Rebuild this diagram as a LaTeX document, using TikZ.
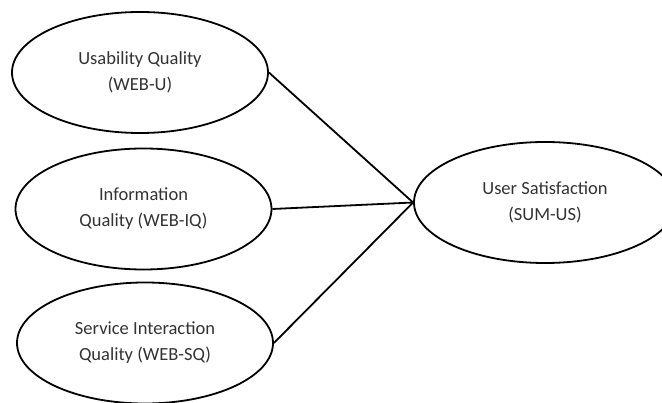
\documentclass[tikz,border=0pt]{standalone}
\usepackage{fontspec}
\setmainfont{Carlito}
\usetikzlibrary{shapes.geometric}
\begin{document}
\begin{tikzpicture}[x=1pt,y=-1pt,
  construct/.style={draw=black, line width=1.8pt, ellipse, inner sep=0pt,
    minimum width=256pt, minimum height=121pt, align=center,
    text=black!80, font=\fontsize{18.5}{26}\selectfont},
  link/.style={draw=black, line width=1.8pt}]
  \useasboundingbox (0,0) rectangle (662,403);
  \fill[white] (0,0) rectangle (662,403);
  % exogenous constructs
  \node[construct] (wu) at (140,72.5) {Usability Quality\\(WEB-U)};
  \node[construct] (wi) at (143.5,209) {Information\\Quality (WEB-IQ)};
  \node[construct] (ws) at (145,343) {Service Interaction\\Quality (WEB-SQ)};
  % endogenous construct
  \node[construct, minimum width=262pt] (us) at (545,202.5) {User Satisfaction\\(SUM-US)};
  % paths
  \draw[link] (wu.east) -- (us.west);
  \draw[link] (wi.east) -- (us.west);
  \draw[link] (ws.east) -- (us.west);
\end{tikzpicture}
\end{document}
